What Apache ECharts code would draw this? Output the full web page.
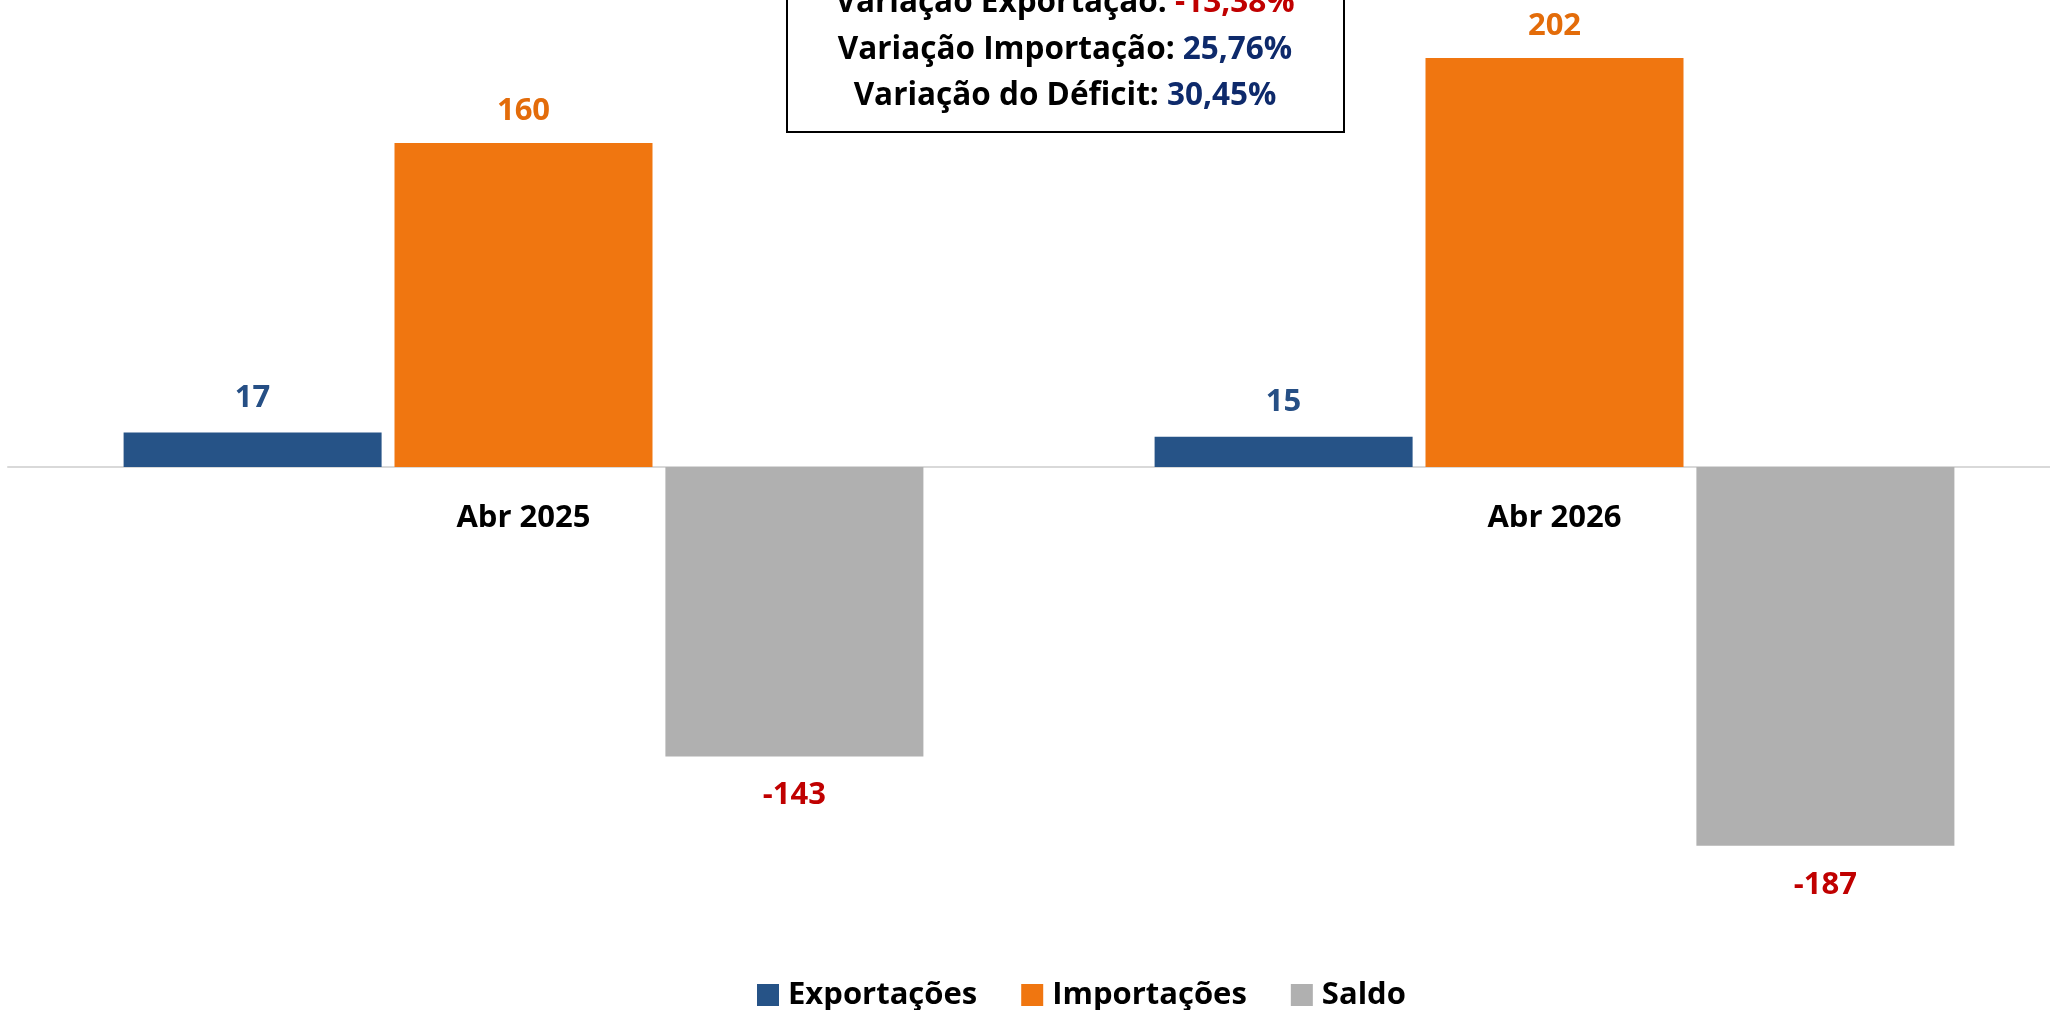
<!DOCTYPE html>
<html>
<head>
<meta charset="utf-8">
<script src="https://cdn.jsdelivr.net/npm/echarts@6/dist/echarts.min.js"></script>
<style>
html,body{margin:0;padding:0;background:#fff;}
#chart{width:2050px;height:1010px;}
</style>
</head>
<body>
<div id="chart"></div>
<script>
const categories = ['Abr 2025', 'Abr 2026'];
const exportacoes = [17, 15];
const importacoes = [160, 202];
const saldo = [-143, -187];
const seriesNames = ['Exportações', 'Importações', 'Saldo'];
const boxLines = [
  ['Variação Exportação: ', '-13,38%'],
  ['Variação Importação: ', '25,76%'],
  ['Variação do Déficit: ', '30,45%']
];

const FONT = '"Open Sans", "Noto Sans", sans-serif';
const chart = echarts.init(document.getElementById('chart'), null, {renderer: 'canvas'});

function labelCfg(color, pos, dist) {
  return {
    show: true, position: pos, distance: dist,
    color: color, fontFamily: FONT, fontWeight: 'bold', fontSize: 31, lineHeight: 32
  };
}

const boxText = boxLines.map((l, i) =>
  '{k|' + l[0] + '}{' + (i === 0 ? 'r' : 'b') + '|' + l[1] + '}').join('\n');

// grid: top 21.5, bottom edge at 872; y=0 lies at 467 -> axis offset -405
chart.setOption({
  animation: false,
  backgroundColor: '#ffffff',
  grid: {left: 8, right: -20, top: 21.5, bottom: 138, containLabel: false, outerBoundsMode: 'none'},
  legend: {
    data: seriesNames,
    left: 752, top: 974,
    itemWidth: 22, itemHeight: 22, itemGap: 44,
    icon: 'rect',
    textStyle: {fontFamily: FONT, fontWeight: 'bold', fontSize: 31, color: '#000', lineHeight: 32, padding: [0, 0, 0, 4]}
  },
  xAxis: {
    type: 'category',
    data: categories,
    offset: -405,
    axisLine: {show: true, onZero: false, lineStyle: {color: '#D9D9D9', width: 2}},
    axisTick: {show: false},
    axisLabel: {margin: 35, color: '#000', fontFamily: FONT, fontWeight: 'bold', fontSize: 31, lineHeight: 32}
  },
  yAxis: {
    type: 'value', min: -200, max: 220, show: false,
    splitLine: {show: false}
  },
  series: [
    {
      name: seriesNames[0], type: 'bar', data: exportacoes,
      barWidth: 258, barGap: '5%',
      itemStyle: {color: '#265387'},
      label: labelCfg('#264F85', 'top', 18)
    },
    {
      name: seriesNames[1], type: 'bar', data: importacoes,
      barWidth: 258, barGap: '5%',
      itemStyle: {color: '#F07610'},
      label: labelCfg('#E36C0A', 'top', 16)
    },
    {
      name: seriesNames[2], type: 'bar', data: saldo,
      barWidth: 258, barGap: '5%',
      itemStyle: {color: '#B0B0B0'},
      label: labelCfg('#C00000', 'bottom', 23)
    }
  ],
  graphic: [
    {
      type: 'rect', z: 100,
      shape: {x: 787, y: -60, width: 557, height: 192},
      style: {fill: '#ffffff', stroke: '#000000', lineWidth: 2}
    },
    {
      type: 'text', z: 101,
      x: 1065, y: -20,
      style: {
        text: boxText,
        align: 'center', verticalAlign: 'top',
        fontFamily: FONT, fontWeight: 'bold', fontSize: 31.5, lineHeight: 46.5,
        rich: {
          k: {fontFamily: FONT, fontWeight: 'bold', fontSize: 31.5, lineHeight: 46.5, fill: '#000000', color: '#000000'},
          r: {fontFamily: FONT, fontWeight: 'bold', fontSize: 31.5, lineHeight: 46.5, fill: '#C00000', color: '#C00000'},
          b: {fontFamily: FONT, fontWeight: 'bold', fontSize: 31.5, lineHeight: 46.5, fill: '#0E2A6B', color: '#0E2A6B'}
        }
      }
    }
  ]
});
</script>
</body>
</html>
